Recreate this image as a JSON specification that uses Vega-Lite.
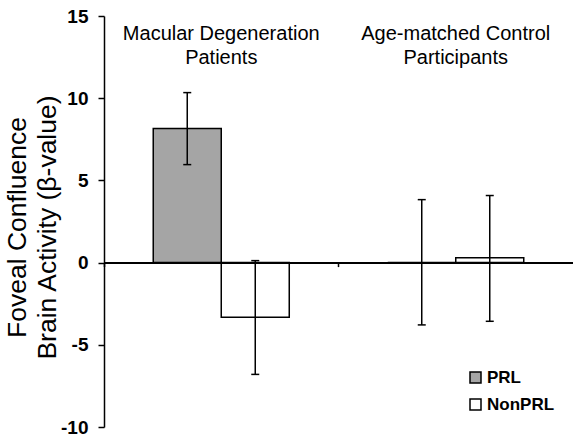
{
  "$schema": "https://vega.github.io/schema/vega-lite/v6.json",
  "width": 469,
  "height": 411,
  "autosize": {"type": "none"},
  "padding": {"left": 104, "top": 16, "right": 0, "bottom": 9},
  "background": "white",
  "config": {"font": "Liberation Sans", "view": {"stroke": null}},
  "datasets": {
    "bars": [
      {"group": "MD", "series": "PRL", "value": 8.15, "lo": 5.96, "hi": 10.34},
      {"group": "MD", "series": "NonPRL", "value": -3.33, "lo": -6.8, "hi": 0.12},
      {"group": "Control", "series": "PRL", "value": 0, "lo": -3.79, "hi": 3.83},
      {"group": "Control", "series": "NonPRL", "value": 0.29, "lo": -3.57, "hi": 4.08}
    ],
    "labels": [
      {"group": "MD", "label": "Macular Degeneration\nPatients"},
      {"group": "Control", "label": "Age-matched Control\nParticipants"}
    ]
  },
  "layer": [
    {
      "data": {"name": "bars"},
      "mark": {"type": "bar", "stroke": "black", "strokeWidth": 1.5},
      "encoding": {
        "x": {
          "field": "group", "type": "nominal", "sort": ["MD", "Control"], "title": null,
          "scale": {"paddingInner": 0, "paddingOuter": 0},
          "axis": {
            "orient": "bottom", "offset": -164.4, "labels": false, "title": null,
            "bandPosition": 0, "tickSize": 4, "tickWidth": 1.5, "tickColor": "black",
            "domainColor": "black", "domainWidth": 2, "zindex": 1
          }
        },
        "xOffset": {
          "field": "series", "type": "nominal", "sort": ["PRL", "NonPRL"],
          "scale": {"paddingInner": 0, "paddingOuter": 0.724}
        },
        "y": {
          "field": "value", "type": "quantitative",
          "title": ["Foveal Confluence", "Brain Activity (β-value)"],
          "scale": {"domain": [-10, 15], "nice": false, "zero": false},
          "axis": {
            "values": [-10, -5, 0, 5, 10, 15], "grid": false, "labelExpr": "'' + datum.value",
            "tickSize": 6, "tickWidth": 1.5, "tickColor": "black",
            "domainColor": "black", "domainWidth": 1.5,
            "labelFontSize": 19, "labelFontWeight": "bold", "labelColor": "black", "labelPadding": 10,
            "title": ["Foveal Confluence", "Brain Activity (β-value)"],
            "titleFontSize": 26.5, "titleFontWeight": "normal", "titleColor": "black",
            "titleLineHeight": 30, "titleX": -79, "titleY": 211, "titleAngle": -90,
            "titleAlign": "center", "titleBaseline": "alphabetic"
          }
        },
        "color": {
          "field": "series", "type": "nominal",
          "scale": {"domain": ["PRL", "NonPRL"], "range": ["#a5a5a5", "#ffffff"]},
          "legend": {
            "title": null, "orient": "none", "legendX": 363, "legendY": 353,
            "symbolType": "square", "symbolSize": 121, "symbolStrokeColor": "black",
            "symbolStrokeWidth": 1.5, "symbolOpacity": 1,
            "labelFontSize": 17, "labelFontWeight": "bold", "labelColor": "black",
            "labelOffset": 3, "rowPadding": 9, "padding": 0
          }
        }
      }
    },
    {
      "data": {"name": "bars"},
      "mark": {"type": "rule", "color": "black", "strokeWidth": 1.5},
      "encoding": {
        "x": {"field": "group", "type": "nominal", "sort": ["MD", "Control"], "title": null},
        "xOffset": {"field": "series", "type": "nominal", "sort": ["PRL", "NonPRL"]},
        "y": {"field": "lo", "type": "quantitative", "title": ["Foveal Confluence", "Brain Activity (β-value)"]},
        "y2": {"field": "hi"}
      }
    },
    {
      "data": {"name": "bars"},
      "mark": {"type": "tick", "color": "black", "size": 8, "thickness": 1.5, "orient": "horizontal", "opacity": 1},
      "encoding": {
        "x": {"field": "group", "type": "nominal", "sort": ["MD", "Control"], "title": null},
        "xOffset": {"field": "series", "type": "nominal", "sort": ["PRL", "NonPRL"]},
        "y": {"field": "lo", "type": "quantitative", "title": ["Foveal Confluence", "Brain Activity (β-value)"]}
      }
    },
    {
      "data": {"name": "bars"},
      "mark": {"type": "tick", "color": "black", "size": 8, "thickness": 1.5, "orient": "horizontal", "opacity": 1},
      "encoding": {
        "x": {"field": "group", "type": "nominal", "sort": ["MD", "Control"], "title": null},
        "xOffset": {"field": "series", "type": "nominal", "sort": ["PRL", "NonPRL"]},
        "y": {"field": "hi", "type": "quantitative", "title": ["Foveal Confluence", "Brain Activity (β-value)"]}
      }
    },
    {
      "data": {"name": "labels"},
      "mark": {"type": "text", "lineBreak": "\n", "fontSize": 20, "baseline": "top", "align": "center", "lineHeight": 24, "color": "black"},
      "encoding": {
        "x": {"field": "group", "type": "nominal", "sort": ["MD", "Control"], "title": null},
        "y": {"datum": 14.54, "type": "quantitative", "title": ["Foveal Confluence", "Brain Activity (β-value)"]},
        "text": {"field": "label"}
      }
    }
  ]
}
